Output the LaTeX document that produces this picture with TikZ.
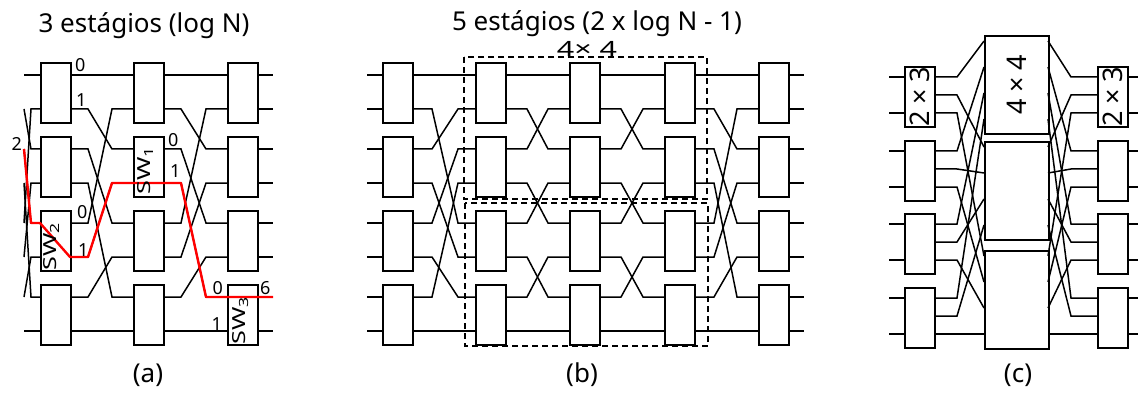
\documentclass[tikz,border=0pt]{standalone}
\usepackage{fontspec}
\setmainfont{Noto Sans}
\usetikzlibrary{positioning,calc}

\tikzset{
  swbox/.style={draw, line width=1.6pt, minimum width=30pt, minimum height=60pt,
    inner sep=0pt, anchor=north west},
  midbox/.style={swbox, minimum width=64pt, minimum height=98pt},
  wire/.style={line width=1.5pt},
  route/.style={draw=red, line width=2.4pt, line join=round},
  group/.style={draw, line width=1.3pt, dash pattern=on 6pt off 4pt},
  lbl/.style={inner sep=0pt, font=\fontsize{18}{18}\selectfont},
  head/.style={inner sep=0pt, font=\fontsize{26}{26}\selectfont},
  swtag/.style={inner sep=0pt, rotate=90, font=\fontsize{18}{18}\selectfont},
  sizetag/.style={inner sep=0pt, rotate=90, font=\fontsize{27}{27}\selectfont},
}
\newcommand{\swname}[1]{\scalebox{1.4}[1]{SW\textsubscript{#1}}}

\begin{document}
\begin{tikzpicture}[x=1pt, y=-1pt]
  \useasboundingbox (0,0) rectangle (1138,393);

  %% (a) omega network, 3 stages
  \node[head, anchor=base] (ta) at (144,33) {3 estágios (log N)};
  \foreach \s/\x in {1/40,2/133,3/227}{
    \foreach \b in {0,...,3}
      \node[swbox] (a\s-\b) at (\x,{62+74*\b}) {};
    \foreach \i in {0,...,7}{
      \pgfmathsetmacro\y{75+74*floor(\i/2)+34*mod(\i,2)}
      \coordinate (a\s-in\i) at (\x,\y);
      \coordinate (a\s-out\i) at (\x+30,\y);
    }
  }
  \foreach \i in {0,...,7}{
    \pgfmathsetmacro\y{75+74*floor(\i/2)+34*mod(\i,2)}
    \coordinate (a0-\i) at (24,\y);
  }
  % shuffle links
  \foreach \i in {0,...,7}{
    \pgfmathtruncatemacro\j{\i==7 ? 7 : mod(2*\i,7)}
    \draw[wire] (a0-\i) -- ($(a1-in\j)+(-9,0)$) -- (a1-in\j);
    \foreach \s/\t in {1/2,2/3}
      \draw[wire] (a\s-out\i) -- ++(18,0) -- ($(a\t-in\j)+(-21,0)$) -- (a\t-in\j);
    \draw[wire] (a3-out\i) -- ++(16,0);
  }
  % path from 2 to 6
  \draw[route] (a0-2) -- ($(a1-in4)+(-9,0)$) -- (a1-in4) -- (a1-out5) -- ++(18,0)
    -- ($(a2-in3)+(-21,0)$) -- (a2-in3) -- (a2-out3) -- ++(18,0)
    -- ($(a3-in6)+(-21,0)$) -- (a3-in6) -- (a3-out6) -- ++(16,0);
  \node[lbl, anchor=base east] at (22,151) {2};
  \node[lbl, anchor=base west] at ($(a1-out0)+(5,-3)$) {0};
  \node[lbl, anchor=base west] at ($(a1-out1)+(6,-2)$) {1};
  \node[lbl, anchor=base west] at ($(a2-out2)+(5,-2)$) {0};
  \node[lbl, anchor=base west] at ($(a2-out3)+(7,-6)$) {1};
  \node[lbl, anchor=base west] at ($(a1-out4)+(7,-5)$) {0};
  \node[lbl, anchor=base west] at ($(a1-out5)+(8,-1)$) {1};
  \node[lbl, anchor=base east] at ($(a3-in6)+(-4,-3)$) {0};
  \node[lbl, anchor=base west] at ($(a3-out6)+(3,-3)$) {6};
  \node[lbl, anchor=base east] at ($(a3-in7)+(-5,-1)$) {1};
  \node[swtag] at ($(a2-1)+(-3,4)$) {\swname{1}};
  \node[swtag] at ($(a1-2)+(-4,6)$) {\swname{2}};
  \node[swtag] at ($(a3-3)+(-2,6)$) {\swname{3}};
  \node[head, anchor=base] (la) at (148,382) {(a)};

  %% (b) benes network, 5 stages
  \node[head, anchor=base] (tb) at (597,31) {5 estágios (2 x log N - 1)};
  \foreach \s/\x in {1/382,2/475,3/569,4/664,5/758}{
    \foreach \b in {0,...,3}
      \node[swbox] (b\s-\b) at (\x,{62+74*\b}) {};
    \foreach \i in {0,...,7}{
      \pgfmathsetmacro\y{75+74*floor(\i/2)+34*mod(\i,2)}
      \coordinate (b\s-in\i) at (\x,\y);
      \coordinate (b\s-out\i) at (\x+30,\y);
    }
  }
  \foreach \i in {0,...,7}{
    \pgfmathsetmacro\y{75+74*floor(\i/2)+34*mod(\i,2)}
    \coordinate (b0-\i) at (367,\y);
    \pgfmathtruncatemacro\ji{\i==7 ? 7 : mod(4*\i,7)}
    \pgfmathtruncatemacro\jm{(\i==0 || \i==7) ? \i : (mod(\i,2)==1 ? \i+1 : \i-1)}
    \pgfmathtruncatemacro\js{\i==7 ? 7 : mod(2*\i,7)}
    \draw[wire] (b0-\i) -- (b1-in\i);
    \draw[wire] (b1-out\i) -- ++(20,0) -- ($(b2-in\ji)+(-17,0)$) -- (b2-in\ji);
    \draw[wire] (b2-out\i) -- ++(22,0) -- ($(b3-in\jm)+(-21,0)$) -- (b3-in\jm);
    \draw[wire] (b3-out\i) -- ++(22,0) -- ($(b4-in\jm)+(-21,0)$) -- (b4-in\jm);
    \draw[wire] (b4-out\i) -- ++(20,0) -- ($(b5-in\js)+(-21,0)$) -- (b5-in\js);
    \draw[wire] (b5-out\i) -- ++(16,0);
  }
  \draw[group] (464,57) rectangle (707,199);
  \draw[group] (465,203) rectangle (708,346);
  \node[lbl, anchor=base, font=\fontsize{21}{21}\selectfont] (sub) at (587,57) {\scalebox{1.45}[1]{4× 4}};
  \node[head, anchor=base] (lb) at (582,382) {(b)};

  %% (c) clos network
  \foreach \b/\t in {0/66,1/140,2/213,3/287}{
    \node[swbox] (ci-\b) at (904,\t) {};
    \node[swbox] (ce-\b) at (1097,\t) {};
    \coordinate (ci-\b-in0) at (904,\t+11);
    \coordinate (ci-\b-in1) at (904,\t+47);
    \coordinate (ce-\b-out0) at (1127,\t+11);
    \coordinate (ce-\b-out1) at (1127,\t+47);
    \foreach \k in {0,1,2}{
      \pgfmathsetmacro\dy{{11,29,47}[\k]}
      \coordinate (ci-\b-o\k) at (935,\t+\dy);
      \coordinate (ce-\b-i\k) at (1097,\t+\dy);
    }
  }
  \foreach \k/\t in {0/35,1/141,2/250}{
    \node[midbox] (cm-\k) at (984,\t) {};
    \foreach \b in {0,...,3}{
      \coordinate (cm-\k-i\b) at (984,\t+6+26*\b);
      \coordinate (cm-\k-o\b) at (1048,\t+6+26*\b);
    }
  }
  \foreach \b in {0,...,3}{
    \draw[wire] ($(ci-\b-in0)+(-15,0)$) -- (ci-\b-in0);
    \draw[wire] ($(ci-\b-in1)+(-15,0)$) -- (ci-\b-in1);
    \draw[wire] (ce-\b-out0) -- ++(12,0);
    \draw[wire] (ce-\b-out1) -- ++(12,0);
    \foreach \k in {0,1,2}{
      \draw[wire] (ci-\b-o\k) -- ++(22,0) -- (cm-\k-i\b);
      \draw[wire] (cm-\k-o\b) -- ($(ce-\b-i\k)+(-26,0)$) -- (ce-\b-i\k);
    }
  }
  \node[sizetag] at (cm-0) {4 × 4};
  \node[sizetag] at (ci-0) {2 × 3};
  \node[sizetag] at (ce-0) {2 × 3};
  \node[head, anchor=base] (lc) at (1018,382) {(c)};
\end{tikzpicture}
\end{document}
